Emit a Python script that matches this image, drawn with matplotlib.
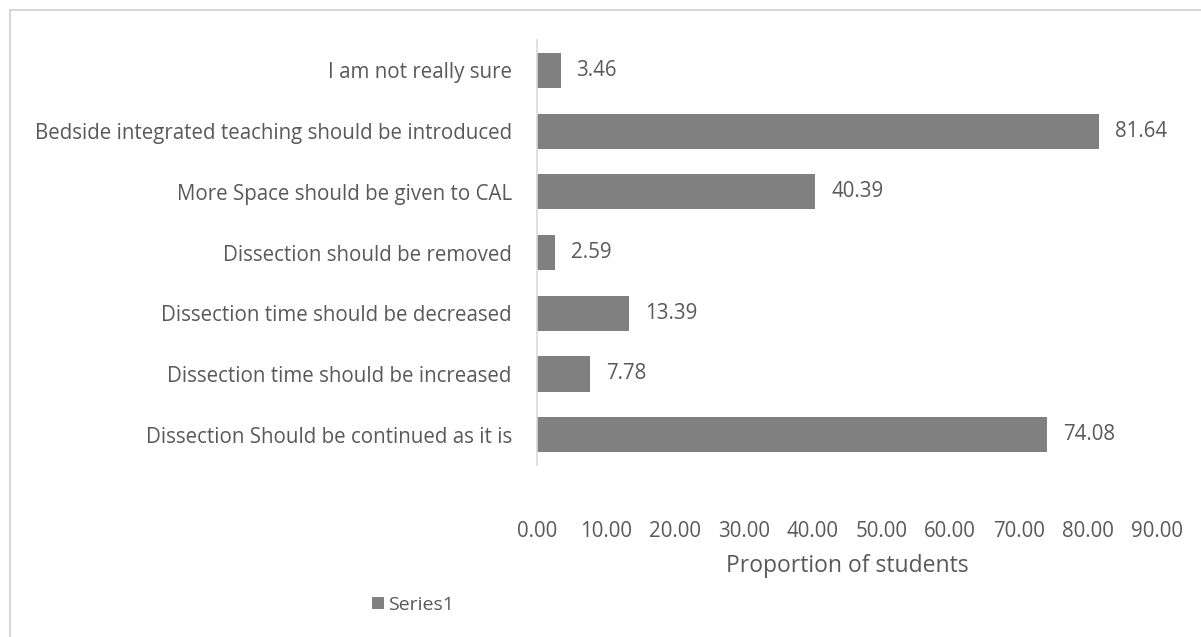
import numpy as np
import matplotlib
matplotlib.use('Agg')
import matplotlib.pyplot as plt
from matplotlib.patches import Rectangle

categories = [
    'Dissection Should be continued as it is',
    'Dissection time should be increased',
    'Dissection time should be decreased',
    'Dissection should be removed',
    'More Space should be given to CAL',
    'Bedside integrated teaching should be introduced',
    'I am not really sure',
]
values = [74.08, 7.78, 13.39, 2.59, 40.39, 81.64, 3.46]
xticks = [0, 10, 20, 30, 40, 50, 60, 70, 80, 90]

BAR = '#808080'
TEXT = '#595959'
AXIS = '#d9d9d9'

plt.rcParams['font.family'] = ['Open Sans', 'DejaVu Sans']

fig = plt.figure(figsize=(12.01, 6.37), dpi=100)
ax = fig.add_axes([0.447, 0.270, 0.5164, 0.667])

# chart-area border (cropped by the screenshot on the right and bottom)
fig.patches.append(Rectangle((10 / 1201, -0.1), 1.2, 1.1 - 10 / 637,
                             transform=fig.transFigure, fill=False,
                             edgecolor='#d0d0d0', linewidth=1.2))

y = np.arange(len(categories))
bars = ax.barh(y, values, height=0.58, color=BAR, label='Series1')
for yi, v in zip(y, values):
    ax.text(v + 2.3, yi, f'{v:.2f}', va='center', ha='left',
            color=TEXT, fontsize=14.8)

ax.set_xlim(0, 90)
ax.set_ylim(-0.5, 6.5)
ax.set_yticks(y)
ax.set_yticklabels(categories, color=TEXT, fontsize=14.8)
ax.set_xticks(xticks)
ax.set_xticklabels([f'{t:.2f}' for t in xticks], color=TEXT, fontsize=14.8)
ax.tick_params(axis='both', length=0)
ax.tick_params(axis='x', pad=40)
ax.tick_params(axis='y', pad=18)
for s in ('top', 'right', 'bottom'):
    ax.spines[s].set_visible(False)
ax.spines['left'].set_color(AXIS)
ax.spines['left'].set_linewidth(1.2)
ax.set_xlabel('Proportion of students', color=TEXT, fontsize=16.5, labelpad=9)

fig.legend(handles=[bars], labels=['Series1'], loc='center',
           bbox_to_anchor=(0.344, 0.05), frameon=False, fontsize=14,
           labelcolor=TEXT, handlelength=0.6, handleheight=0.6,
           handletextpad=0.2)

fig.savefig('out.png', dpi=100)
plt.close(fig)
